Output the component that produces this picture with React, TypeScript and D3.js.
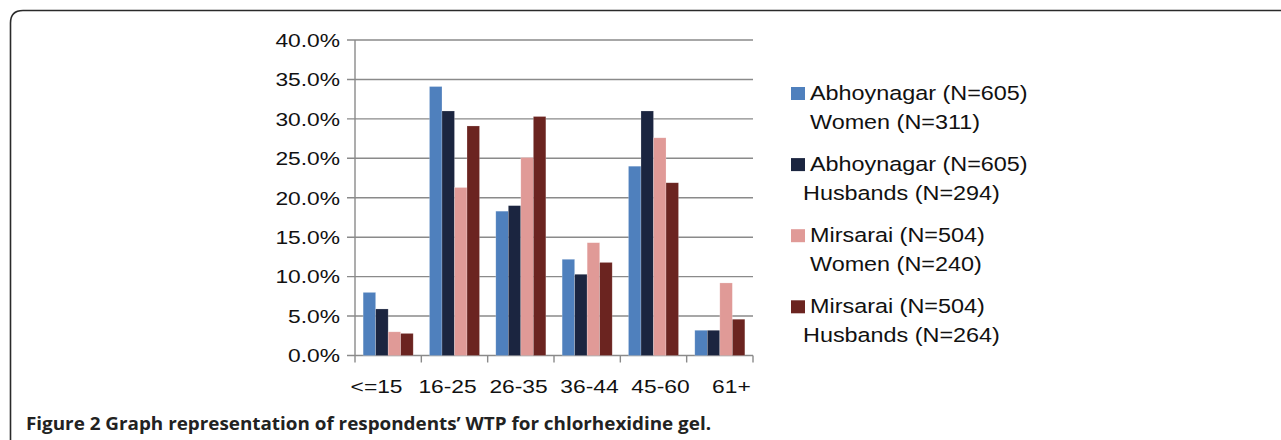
import React from 'react';
import * as d3 from 'd3';

const categories = ['<=15', '16-25', '26-35', '36-44', '45-60', '61+'];
const seriesKeys = ['abhWomen', 'abhHusbands', 'mirWomen', 'mirHusbands'];
const seriesLines = [
  ['Abhoynagar (N=605)', 'Women (N=311)'],
  ['Abhoynagar (N=605)', 'Husbands (N=294)'],
  ['Mirsarai (N=504)', 'Women (N=240)'],
  ['Mirsarai (N=504)', 'Husbands (N=264)'],
];
const seriesColors = ['#4f80bd', '#1b2540', '#e09a97', '#6b2420'];

// percent values per age group
const abhWomen = [8.0, 34.1, 18.3, 12.2, 24.0, 3.2];
const abhHusbands = [5.9, 31.0, 19.0, 10.3, 31.0, 3.2];
const mirWomen = [3.0, 21.3, 25.1, 14.3, 27.6, 9.2];
const mirHusbands = [2.8, 29.1, 30.3, 11.8, 21.9, 4.6];
const seriesValues = [abhWomen, abhHusbands, mirWomen, mirHusbands];

const yTicks = [0, 0.05, 0.1, 0.15, 0.2, 0.25, 0.3, 0.35, 0.4];
const caption = 'Figure 2 Graph representation of respondents\u2019 WTP for chlorhexidine gel.';

const W = 1281;
const H = 440;
const plot = { left: 355, right: 753, top: 40, bottom: 355.5 };
const FONT = '"Liberation Sans", Arial, Helvetica, sans-serif';
const SX = 1.2;
const gridColor = '#8a8a8a';

export default function App() {
  const x = d3.scaleBand<string>().domain(categories).range([plot.left, plot.right]);
  const xs = d3.scaleBand<string>().domain(seriesKeys).range([0, x.bandwidth()]).paddingOuter(0.65);
  const y = d3.scaleLinear().domain([0, 0.4]).range([plot.bottom, plot.top]);
  const fmt = d3.format('.1%');
  // category labels sit a little wider apart than the bands
  const mid = (plot.left + plot.right) / 2;
  const labelX = (c: string) => mid + (x(c)! + x.bandwidth() / 2 - mid) * 1.07;

  return (
    <div style={{ position: 'absolute', left: 0, top: 0 }}>
      <svg width={W} height={H} style={{ display: 'block', background: '#fff' }}>
        {/* figure frame */}
        <path d={`M10.5,${H} V23 Q10.5,10.5 23,10.5 H${W}`} fill="none" stroke="#2a2a2a" strokeWidth={1.6} />

        {/* gridlines */}
        {yTicks.map((t) => (
          <line key={'g' + t} x1={plot.left - 8} x2={plot.right} y1={y(t)} y2={y(t)} stroke={gridColor} strokeWidth={1.4} />
        ))}
        {/* y axis */}
        <line x1={plot.left} x2={plot.left} y1={plot.top} y2={plot.bottom + 7} stroke={gridColor} strokeWidth={1.4} />
        {/* x ticks */}
        {categories.map((c) => (
          <line key={'xt' + c} x1={x(c)! + x.bandwidth()} x2={x(c)! + x.bandwidth()} y1={plot.bottom} y2={plot.bottom + 7} stroke={gridColor} strokeWidth={1.4} />
        ))}

        {/* bars */}
        {seriesKeys.map((k, si) =>
          categories.map((c, ci) => (
            <rect
              key={k + c}
              x={x(c)! + xs(k)!}
              y={y(seriesValues[si][ci] / 100)}
              width={xs.bandwidth()}
              height={plot.bottom - y(seriesValues[si][ci] / 100)}
              fill={seriesColors[si]}
              stroke="#ffffff"
              strokeOpacity={0.35}
              strokeWidth={0.6}
            />
          ))
        )}

        {/* y labels */}
        {yTicks.map((t) => (
          <text
            key={'yl' + t}
            transform={`translate(340,${y(t) + 6.8}) scale(${SX},1)`}
            textAnchor="end"
            fontFamily={FONT}
            fontSize={19}
            fill="#111"
          >
            {fmt(t)}
          </text>
        ))}

        {/* x labels */}
        {categories.map((c) => (
          <text
            key={'xl' + c}
            transform={`translate(${labelX(c)},393) scale(${SX},1)`}
            textAnchor="middle"
            fontFamily={FONT}
            fontSize={19}
            fill="#111"
          >
            {c}
          </text>
        ))}

        {/* legend */}
        {seriesLines.map((lines, i) => {
          const by = 100 + i * 71.1;
          return (
            <g key={'lg' + i}>
              <rect x={791} y={by - 13} width={14} height={13} fill={seriesColors[i]} />
              <text transform={`translate(810,${by}) scale(${SX},1)`} fontFamily={FONT} fontSize={19.5} fill="#111">
                {lines[0]}
              </text>
              <text
                transform={`translate(${lines[1].startsWith('Husbands') ? 803 : 810},${by + 29}) scale(${SX},1)`}
                fontFamily={FONT}
                fontSize={19.5}
                fill="#111"
              >
                {lines[1]}
              </text>
            </g>
          );
        })}

        {/* caption */}
        <text
          x={26}
          y={430}
          fontFamily='"Open Sans", "Noto Sans", sans-serif'
          fontWeight="bold"
          fontSize={17}
          fill="#222"
          textLength={685}
          lengthAdjust="spacingAndGlyphs"
        >
          {caption}
        </text>
      </svg>
    </div>
  );
}
